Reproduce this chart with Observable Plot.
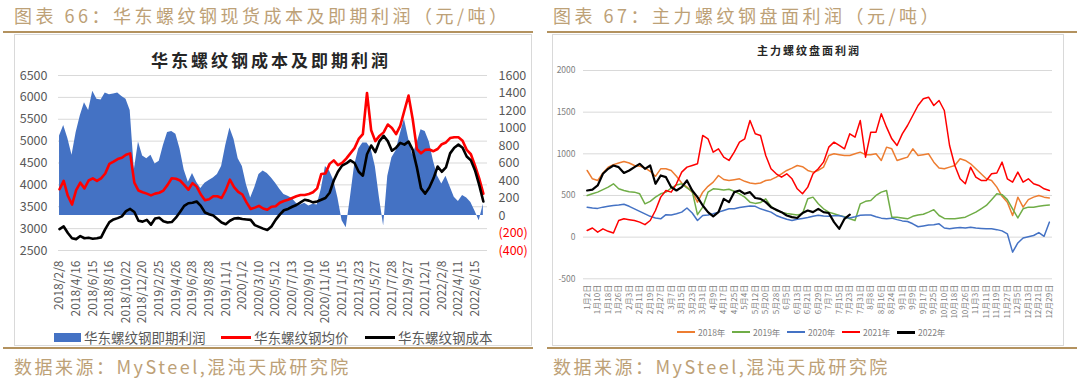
<!DOCTYPE html>
<html><head><meta charset="utf-8">
<script src="https://cdn.jsdelivr.net/npm/d3@7"></script>
<script src="https://cdn.jsdelivr.net/npm/@observablehq/plot@0.6"></script>
<style>
body{margin:0;width:1080px;height:378px;background:#fff;position:relative;overflow:hidden;font-family:"Noto Sans CJK SC","Noto Sans",sans-serif;}
.hdr{position:absolute;top:2px;font-size:18px;line-height:26px;color:#bda177;letter-spacing:3.5px;white-space:nowrap;}
.rule{position:absolute;height:2px;background:#b3925f;}
.box{position:absolute;border:1px solid #d9d9d9;box-sizing:border-box;}
.src{position:absolute;top:353px;font-size:18px;line-height:26px;color:#bda177;letter-spacing:2.5px;white-space:nowrap;}
.ctitle{position:absolute;font-weight:bold;color:#262626;white-space:nowrap;transform:translateX(-50%);}
.plot{position:absolute;}
.lg{position:absolute;white-space:nowrap;color:#595959;}
.sw{position:absolute;}
</style></head>
<body>
<div class="hdr" style="left:14px">图表 66：华东螺纹钢现货成本及即期利润（元/吨）</div>
<div class="hdr" style="left:553px">图表 67：主力螺纹钢盘面利润（元/吨）</div>
<div class="rule" style="left:3px;width:530px;top:31px"></div>
<div class="rule" style="left:547px;width:530px;top:31px"></div>
<div class="box" style="left:14px;top:34px;width:518px;height:312px"></div>
<div class="box" style="left:552px;top:34px;width:512px;height:312px"></div>
<div class="rule" style="left:3px;width:530px;top:347px"></div>
<div class="rule" style="left:547px;width:530px;top:347px"></div>
<div class="src" style="left:14px">数据来源：MySteel,混沌天成研究院</div>
<div class="src" style="left:553px">数据来源：MySteel,混沌天成研究院</div>
<div class="ctitle" style="left:271px;top:47px;font-size:17px;letter-spacing:3px">华东螺纹钢成本及即期利润</div>
<div class="ctitle" style="left:809px;top:42px;font-size:11px;letter-spacing:2px">主力螺纹盘面利润</div>
<div id="left" class="plot" style="left:14px;top:35px"></div>
<div id="right" class="plot" style="left:552px;top:35px"></div>
<div id="legL"></div>
<div id="legR"></div>
<script>
// ---- Left chart data (index step = 1/4 of an x-label interval) ----
const xLabelsL = ["2018/2/8","2018/4/16","2018/6/15","2018/8/16","2018/10/22","2018/12/20","2019/2/25","2019/4/26","2019/6/28","2019/8/28","2019/11/1","2020/1/2","2020/3/10","2020/5/12","2020/7/13","2020/9/10","2020/11/16","2021/1/15","2021/3/23","2021/5/27","2021/7/28","2021/9/27","2021/12/1","2022/2/8","2022/4/11","2022/6/15"];
const profit = [910,1030,880,690,950,1140,1290,1200,1420,1330,1320,1400,1380,1390,1400,1360,1330,1200,520,840,680,650,690,590,620,800,950,960,930,760,520,380,480,380,310,370,400,430,470,560,800,1000,870,650,560,350,200,320,470,510,480,430,370,300,240,220,195,140,120,140,110,130,120,300,560,510,400,200,-60,-140,200,570,760,830,830,760,560,200,-120,450,660,740,930,1100,880,690,820,980,960,840,620,450,360,450,330,210,160,230,200,150,50,-60,130];
const price = [3900,4090,3750,3550,3880,4050,3920,4100,4150,4090,4150,4260,4480,4530,4590,4620,4690,4720,4050,3870,3830,3800,3760,3800,3820,3870,4000,4150,4140,4100,4000,3890,4040,3960,3780,3650,3670,3740,3740,3700,3880,4120,3950,3840,3780,3600,3450,3480,3520,3460,3430,3500,3510,3590,3630,3660,3700,3740,3770,3770,3790,3830,3920,4250,4260,4480,4560,4450,4500,4600,4720,4840,5050,5160,6100,5250,5000,5120,5200,5380,5300,5160,5350,5700,6040,5500,4820,4720,4800,4810,4770,4820,4930,4970,5070,5090,5090,5010,4800,4700,4440,4150,3800];
const cost = [2990,3050,2900,2780,2760,2830,2780,2790,2770,2780,2800,2990,3150,3210,3240,3280,3400,3450,3380,3180,3160,3200,3090,3230,3250,3170,3140,3150,3250,3380,3520,3580,3590,3620,3520,3370,3330,3300,3220,3140,3100,3180,3230,3240,3220,3210,3200,3080,3040,3000,2970,3050,3200,3320,3420,3450,3500,3540,3600,3660,3640,3600,3620,3660,3700,3820,4100,4300,4440,4490,4560,4500,4300,4210,4700,4900,4750,5000,5120,5000,4780,4850,4960,4920,4990,4800,4400,3920,3800,3940,4150,4420,4300,4400,4720,4850,4920,4850,4650,4560,4330,4000,3620];
const leftTicks = [2500,3000,3500,4000,4500,5000,5500,6000,6500];
const rightTicks = [-400,-200,0,200,400,600,800,1000,1200,1400,1600];

// ---- Right chart data (step = 1/2 of an x-label interval) ----
const xLabelsR = ["1月2日","1月10日","1月18日","1月26日","2月3日","2月11日","2月19日","2月27日","3月7日","3月15日","3月23日","3月31日","4月9日","4月17日","4月25日","5月4日","5月12日","5月20日","5月28日","6月5日","6月13日","6月21日","6月29日","7月7日","7月15日","7月23日","7月31日","8月8日","8月16日","8月24日","9月1日","9月9日","9月17日","9月25日","10月10日","10月18日","10月26日","11月3日","11月11日","11月19日","11月27日","12月5日","12月13日","12月21日","12月29日"];
const y2018 = [800,700,680,770,840,870,890,908,890,860,852,830,790,730,820,820,800,730,650,600,540,420,540,610,660,740,692,680,690,700,670,650,640,650,680,690,720,760,800,828,860,845,800,780,800,840,980,1000,990,980,980,1000,1020,990,990,1000,920,1080,1060,920,940,960,1060,980,990,1000,900,830,820,840,860,940,920,880,820,760,700,680,600,490,420,260,480,360,450,480,500,480,470];
const y2019 = [500,520,540,570,600,640,580,560,545,540,520,400,430,480,520,540,590,625,640,590,550,270,360,540,580,575,565,575,550,520,480,420,405,415,460,370,320,300,285,275,265,280,460,480,400,340,300,280,260,245,220,200,400,430,440,500,540,560,240,240,230,220,250,265,275,300,330,260,225,220,220,230,240,270,300,340,380,450,520,510,450,340,230,340,360,360,370,380,385];
const y2020 = [360,350,345,360,370,380,385,395,370,340,310,280,250,230,220,270,265,280,300,350,290,200,260,265,280,300,320,340,340,355,365,375,370,340,320,300,260,235,215,200,215,225,235,250,262,255,252,256,260,240,230,245,262,265,265,245,228,220,228,210,195,188,160,125,135,145,150,160,110,100,110,115,110,120,110,105,100,100,90,75,40,-180,-70,-10,5,20,55,10,180];
const y2021 = [80,110,60,100,70,50,200,220,210,200,180,150,200,320,480,560,540,640,780,840,860,880,1220,1180,1020,1060,960,920,1020,1140,1180,1400,1240,1220,980,820,760,720,760,700,580,520,600,760,820,900,1080,1140,1100,1060,1240,1200,1400,960,1260,1260,1480,1320,1180,1100,1240,1340,1460,1580,1660,1680,1580,1640,1520,1100,860,700,640,840,720,680,680,760,770,900,700,660,780,660,700,640,620,580,560];
const y2022 = [560,570,620,760,820,860,840,770,800,840,880,820,860,640,740,720,600,560,600,680,560,480,380,300,250,300,460,420,540,560,520,540,470,460,420,360,330,300,260,240,230,290,320,300,340,300,290,180,100,220,270];
const rTicks = [-500,0,500,1000,1500,2000];
const seriesR = [
  {name:"2018年", vals:y2018, color:"#ED7D31", w:1.5},
  {name:"2019年", vals:y2019, color:"#70AD47", w:1.5},
  {name:"2020年", vals:y2020, color:"#4472C4", w:1.5},
  {name:"2021年", vals:y2021, color:"#FF0000", w:1.5},
  {name:"2022年", vals:y2022, color:"#000000", w:2.2}
];

const FONT = '"Noto Sans CJK SC","Noto Sans",sans-serif';
const base = 3300; // left-axis value at zero profit
const toL = p => base + 2 * p;
const rowsL = profit.map((p, i) => ({i, p, price: price[i], cost: cost[i]}));

const left = Plot.plot({
  width: 517, height: 295,
  marginLeft: 44, marginRight: 44, marginTop: 40, marginBottom: 80,
  x: {domain: [-0.25, 103], axis: null},
  y: {domain: [2500, 6500], axis: null},
  style: {color: "#595959", fontFamily: FONT, background: "transparent", overflow: "visible"},
  marks: [
    Plot.gridY(leftTicks, {stroke: "#d9d9d9", strokeOpacity: 1, strokeWidth: 1}),
    Plot.areaY(rowsL, {x: "i", y1: base, y2: d => toL(d.p), fill: "#4472C4"}),
    Plot.lineY(rowsL, {x: "i", y: "price", stroke: "#FF0000", strokeWidth: 2.6}),
    Plot.lineY(rowsL, {x: "i", y: "cost", stroke: "#000000", strokeWidth: 2.6}),
    Plot.axisY(leftTicks, {anchor: "left", label: null, tickSize: 0, tickPadding: 11, fontSize: 12.5, tickFormat: d => String(d)}),
    Plot.text(rightTicks.filter(v => v >= 0), {y: v => toL(v), frameAnchor: "right", textAnchor: "start", dx: 11, text: v => String(v), fontSize: 12.5, fill: "#595959"}),
    Plot.text(rightTicks.filter(v => v < 0), {y: v => toL(v), frameAnchor: "right", textAnchor: "start", dx: 11, text: v => `(${-v})`, fontSize: 12.5, fill: "#FF0000"}),
    Plot.axisX(d3.range(0, xLabelsL.length * 4, 4), {label: null, tickFormat: d => xLabelsL[d / 4], tickRotate: -90, tickSize: 0, tickPadding: 10, fontSize: 12})
  ]
});
document.getElementById("left").appendChild(left);

const rowsR = seriesR.flatMap(s => s.vals.map((v, j) => ({k: j / 2, v, name: s.name})));
const right = Plot.plot({
  width: 510, height: 290,
  marginLeft: 31, marginRight: 10, marginTop: 35, marginBottom: 46.7,
  x: {domain: [-0.35, 44.3], axis: null},
  y: {domain: [-500, 2000], axis: null},
  style: {color: "#7f7f7f", fontFamily: FONT, background: "transparent", overflow: "visible"},
  marks: [
    Plot.gridY(rTicks, {stroke: "#d9d9d9", strokeOpacity: 1, strokeWidth: 1}),
    ...seriesR.map(s => Plot.lineY(rowsR.filter(d => d.name === s.name), {x: "k", y: "v", stroke: s.color, strokeWidth: s.w})),
    Plot.axisY(rTicks, {anchor: "left", label: null, tickSize: 0, tickPadding: 8, fontSize: 8.5, tickFormat: d => String(d)}),
    Plot.axisX(d3.range(xLabelsR.length), {label: null, tickFormat: d => xLabelsR[d], tickRotate: -90, tickSize: 0, tickPadding: 6, fontSize: 8})
  ]
});
document.getElementById("right").appendChild(right);

// ---- Legends ----
const legL = document.getElementById("legL");
const itemsL = [
  {label: "华东螺纹钢即期利润", kind: "rect", color: "#4472C4", x: 54},
  {label: "华东螺纹钢均价", kind: "line", color: "#FF0000", x: 221},
  {label: "华东螺纹钢成本", kind: "line", color: "#000000", x: 365}
];
itemsL.forEach(it => {
  const sw = document.createElement("div");
  sw.className = "sw";
  sw.style.left = it.x + "px";
  sw.style.width = (it.kind === "rect" ? 27 : 30) + "px";
  sw.style.height = (it.kind === "rect" ? 9 : 3) + "px";
  sw.style.top = (it.kind === "rect" ? 333 : 336) + "px";
  sw.style.background = it.color;
  legL.appendChild(sw);
  const t = document.createElement("div");
  t.className = "lg";
  t.style.left = (it.x + (it.kind === "rect" ? 30 : 33)) + "px";
  t.style.top = "327px";
  t.style.fontSize = "13.5px";
  t.style.lineHeight = "20px";
  t.textContent = it.label;
  legL.appendChild(t);
});
const legR = document.getElementById("legR");
seriesR.forEach((s, j) => {
  const x = 677 + j * 55;
  const sw = document.createElement("div");
  sw.className = "sw";
  sw.style.left = x + "px"; sw.style.width = "18px";
  sw.style.height = (s.w > 2 ? 2.5 : 2) + "px"; sw.style.top = "331px";
  sw.style.background = s.color;
  legR.appendChild(sw);
  const t = document.createElement("div");
  t.className = "lg";
  t.style.left = (x + 21) + "px"; t.style.top = "325px";
  t.style.fontSize = "8.5px"; t.style.lineHeight = "14px"; t.style.color = "#7f7f7f";
  t.textContent = s.name;
  legR.appendChild(t);
});
</script>
</body></html>
